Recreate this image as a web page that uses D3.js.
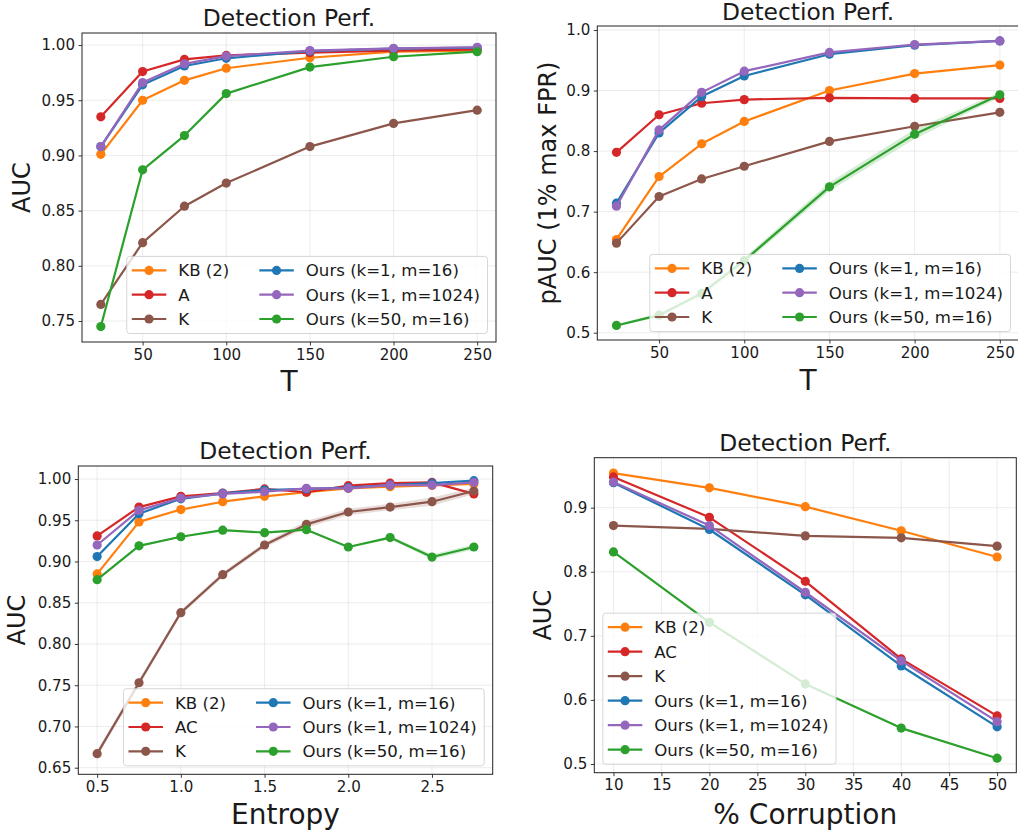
<!DOCTYPE html>
<html>
<head>
<meta charset="utf-8">
<script src="https://cdn.jsdelivr.net/npm/d3@7"></script>
<style>
  html, body { margin: 0; padding: 0; background: #fff; }
  svg { display: block; font-family: "DejaVu Sans", sans-serif; }
</style>
</head>
<body>
<svg id="chart" width="1018" height="831"></svg>
<script>
// ---------------- DATA ----------------
const seriesNamesA = ["KB (2)", "A", "K", "Ours (k=1, m=16)", "Ours (k=1, m=1024)", "Ours (k=50, m=16)"];
const seriesNamesAC = ["KB (2)", "AC", "K", "Ours (k=1, m=16)", "Ours (k=1, m=1024)", "Ours (k=50, m=16)"];
const seriesColors = ["#ff7f0e", "#d62728", "#8c564b", "#1f77b4", "#9467bd", "#2ca02c"];

// Panel 1: AUC vs T
const tValues = [25, 50, 75, 100, 150, 200, 250];
const auc_T_KB    = [0.901, 0.950, 0.968, 0.979, 0.9885, 0.994, 0.995];
const auc_T_A     = [0.935, 0.976, 0.987, 0.9906, 0.993, 0.995, 0.996];
const auc_T_K     = [0.765, 0.821, 0.854, 0.875, 0.908, 0.929, 0.941];
const auc_T_O16   = [0.908, 0.964, 0.981, 0.988, 0.9945, 0.9967, 0.9976];
const auc_T_O1024 = [0.908, 0.966, 0.983, 0.990, 0.995, 0.997, 0.998];
const auc_T_O50   = [0.745, 0.887, 0.918, 0.956, 0.980, 0.9894, 0.994];

// Panel 2: pAUC vs T
const pauc_T_KB    = [0.654, 0.758, 0.812, 0.849, 0.900, 0.928, 0.942];
const pauc_T_A     = [0.798, 0.860, 0.879, 0.885, 0.888, 0.887, 0.887];
const pauc_T_K     = [0.648, 0.725, 0.754, 0.775, 0.816, 0.841, 0.864];
const pauc_T_O16   = [0.714, 0.830, 0.890, 0.924, 0.960, 0.975, 0.982];
const pauc_T_O1024 = [0.709, 0.835, 0.897, 0.932, 0.963, 0.976, 0.982];
const pauc_T_O50   = [0.512, 0.529, 0.565, 0.619, 0.741, 0.828, 0.893];
const pauc_T_O50_spread = [0.002, 0.003, 0.004, 0.005, 0.007, 0.008, 0.004];

// Panel 3: AUC vs Entropy
const entropyValues = [0.5, 0.75, 1.0, 1.25, 1.5, 1.75, 2.0, 2.25, 2.5, 2.75];
const auc_E_KB    = [0.885, 0.948, 0.963, 0.9725, 0.979, 0.984, 0.9887, 0.9907, 0.9923, 0.994];
const auc_E_AC    = [0.931, 0.966, 0.979, 0.983, 0.988, 0.984, 0.992, 0.995, 0.996, 0.982];
const auc_E_K     = [0.667, 0.753, 0.838, 0.884, 0.920, 0.945, 0.960, 0.966, 0.9725, 0.9855];
const auc_E_O16   = [0.906, 0.958, 0.976, 0.9826, 0.9867, 0.988, 0.9895, 0.9927, 0.995, 0.998];
const auc_E_O1024 = [0.920, 0.962, 0.977, 0.982, 0.9846, 0.9887, 0.9887, 0.9927, 0.9927, 0.996];
const auc_E_O50   = [0.878, 0.919, 0.930, 0.938, 0.935, 0.9386, 0.9176, 0.929, 0.9054, 0.9176];
const auc_E_K_spread   = [0.004, 0.004, 0.003, 0.003, 0.003, 0.004, 0.004, 0.004, 0.005, 0.004];
const auc_E_O50_spread = [0.001, 0.001, 0.001, 0.001, 0.001, 0.001, 0.001, 0.002, 0.003, 0.003];

// Panel 4: AUC vs % Corruption
const corruptionValues = [10, 20, 30, 40, 50];
const auc_C_KB    = [0.954, 0.931, 0.9016, 0.864, 0.823];
const auc_C_AC    = [0.948, 0.885, 0.785, 0.664, 0.575];
const auc_C_K     = [0.872, 0.867, 0.856, 0.853, 0.840];
const auc_C_O16   = [0.939, 0.866, 0.764, 0.653, 0.558];
const auc_C_O1024 = [0.940, 0.872, 0.768, 0.661, 0.566];
const auc_C_O50   = [0.831, 0.721, 0.625, 0.556, 0.509];

// Axis ticks
const xTicksT = [50, 100, 150, 200, 250];
const yTicksP1 = [0.75, 0.80, 0.85, 0.90, 0.95, 1.00];
const yTicksP2 = [0.5, 0.6, 0.7, 0.8, 0.9, 1.0];
const xTicksE = [0.5, 1.0, 1.5, 2.0, 2.5];
const yTicksP3 = [0.65, 0.70, 0.75, 0.80, 0.85, 0.90, 0.95, 1.00];
const xTicksC = [10, 15, 20, 25, 30, 35, 40, 45, 50];
const yTicksP4 = [0.5, 0.6, 0.7, 0.8, 0.9];

// ---------------- PANEL CONFIG ----------------
const panels = [
  {
    box: {l: 82, t: 33, r: 496, b: 342},
    xDomain: [13.75, 261.25], yDomain: [0.731, 1.0109],
    x: tValues, series: [auc_T_KB, auc_T_A, auc_T_K, auc_T_O16, auc_T_O1024, auc_T_O50],
    spreads: {}, names: seriesNamesA,
    xTicks: xTicksT, yTicks: yTicksP1, xFmt: d3.format("d"), yFmt: d3.format(".2f"),
    xLabel: "T", yLabel: "AUC", yLabelX: 30, xLabelY: 390.5, titleY: 26,
    legendCols: 2, legendCorner: "lr"
  },
  {
    box: {l: 597.3, t: 26, r: 1019, b: 340},
    xDomain: [13.75, 261.25], yDomain: [0.488, 1.0066],
    x: tValues, series: [pauc_T_KB, pauc_T_A, pauc_T_K, pauc_T_O16, pauc_T_O1024, pauc_T_O50],
    spreads: {5: pauc_T_O50_spread}, names: seriesNamesA,
    xTicks: xTicksT, yTicks: yTicksP2, xFmt: d3.format("d"), yFmt: d3.format(".1f"),
    xLabel: "T", yLabel: "pAUC (1% max FPR)", yLabelX: 556, xLabelY: 390, titleY: 20,
    legendCols: 2, legendCorner: "lr"
  },
  {
    box: {l: 78.3, t: 466, r: 492.7, b: 774.3},
    xDomain: [0.3875, 2.8625], yDomain: [0.642, 1.0158],
    x: entropyValues, series: [auc_E_KB, auc_E_AC, auc_E_K, auc_E_O16, auc_E_O1024, auc_E_O50],
    spreads: {2: auc_E_K_spread, 5: auc_E_O50_spread}, names: seriesNamesAC,
    xTicks: xTicksE, yTicks: yTicksP3, xFmt: d3.format(".1f"), yFmt: d3.format(".2f"),
    xLabel: "Entropy", yLabel: "AUC", yLabelX: 25, xLabelY: 824, titleY: 459.3,
    legendCols: 2, legendCorner: "lr"
  },
  {
    box: {l: 594.3, t: 457.7, r: 1016.3, b: 772.7},
    xDomain: [8, 52], yDomain: [0.4864, 0.978],
    x: corruptionValues, series: [auc_C_KB, auc_C_AC, auc_C_K, auc_C_O16, auc_C_O1024, auc_C_O50],
    spreads: {}, names: seriesNamesAC,
    xTicks: xTicksC, yTicks: yTicksP4, xFmt: d3.format("d"), yFmt: d3.format(".1f"),
    xLabel: "% Corruption", yLabel: "AUC", yLabelX: 550.7, xLabelY: 823.5, titleY: 450.7,
    legendCols: 1, legendCorner: "ll"
  }
];

const svg = d3.select("#chart");
const TICK_FONT = 15.1, LEGEND_FONT = 16.6, TITLE_FONT = 23.4, YLABEL_FONT = 24, XLABEL_FONT = 28;
const textColor = "#1a1a1a";

panels.forEach((p, pi) => {
  const {l, t, r, b} = p.box;
  const xs = d3.scaleLinear().domain(p.xDomain).range([l, r]);
  const ys = d3.scaleLinear().domain(p.yDomain).range([b, t]);
  const g = svg.append("g");
  const clipId = "clip" + pi;
  svg.append("clipPath").attr("id", clipId).append("rect")
    .attr("x", l).attr("y", t).attr("width", r - l).attr("height", b - t);

  // grid
  const grid = g.append("g");
  p.xTicks.forEach(v => grid.append("line")
    .attr("x1", xs(v)).attr("x2", xs(v)).attr("y1", t).attr("y2", b)
    .attr("stroke", "#b0b0b0").attr("stroke-opacity", 0.3).attr("stroke-width", 0.8));
  p.yTicks.forEach(v => grid.append("line")
    .attr("y1", ys(v)).attr("y2", ys(v)).attr("x1", l).attr("x2", r)
    .attr("stroke", "#b0b0b0").attr("stroke-opacity", 0.3).attr("stroke-width", 0.8));

  // axes via d3
  const xAxis = d3.axisBottom(xs).tickValues(p.xTicks).tickFormat(p.xFmt).tickSize(3.5).tickPadding(3.5);
  const yAxis = d3.axisLeft(ys).tickValues(p.yTicks).tickFormat(p.yFmt).tickSize(3.5).tickPadding(3.5);
  const gx = g.append("g").attr("transform", `translate(0,${b})`).call(xAxis);
  const gy = g.append("g").attr("transform", `translate(${l},0)`).call(yAxis);
  [gx, gy].forEach(ax => {
    ax.select(".domain").remove();
    ax.selectAll(".tick line").attr("stroke", "#222").attr("stroke-width", 0.9);
    ax.selectAll(".tick text").attr("fill", textColor)
      .style("font-size", TICK_FONT + "px").style("font-family", "DejaVu Sans");
  });

  // data
  const data = g.append("g").attr("clip-path", `url(#${clipId})`);
  const line = d3.line().x((d, i) => xs(p.x[i])).y(d => ys(d));
  p.series.forEach((s, si) => {
    const col = seriesColors[si];
    const spread = p.spreads[si];
    if (spread) {
      const area = d3.area().x((d, i) => xs(p.x[i]))
        .y0((d, i) => ys(d - spread[i])).y1((d, i) => ys(d + spread[i]));
      data.append("path").datum(s).attr("d", area).attr("fill", col).attr("fill-opacity", 0.2);
    }
    data.append("path").datum(s).attr("d", line).attr("fill", "none")
      .attr("stroke", col).attr("stroke-width", 2.2).attr("stroke-linejoin", "round");
    data.selectAll(null).data(s).enter().append("circle")
      .attr("cx", (d, i) => xs(p.x[i])).attr("cy", d => ys(d)).attr("r", 4.6)
      .attr("fill", col);
  });

  // spines
  g.append("rect").attr("x", l).attr("y", t).attr("width", r - l).attr("height", b - t)
    .attr("fill", "none").attr("stroke", "#222").attr("stroke-width", 1);

  // title
  g.append("text").attr("x", (l + r) / 2).attr("y", p.titleY).attr("text-anchor", "middle")
    .attr("fill", textColor).style("font-size", TITLE_FONT + "px").text("Detection Perf.");
  // x label
  g.append("text").attr("x", (l + r) / 2).attr("y", p.xLabelY).attr("text-anchor", "middle")
    .attr("fill", textColor).style("font-size", XLABEL_FONT + "px").text(p.xLabel);
  // y label
  g.append("text").attr("transform", `translate(${p.yLabelX},${(t + b) / 2}) rotate(-90)`)
    .attr("text-anchor", "middle").attr("fill", textColor)
    .style("font-size", YLABEL_FONT + "px").text(p.yLabel);

  // legend
  const lg = g.append("g");
  const rowsPerCol = Math.ceil(p.names.length / p.legendCols);
  const padL = 5, handleLen = 34.5, textGap = 12, colGap = 30, padR = 7.5;
  const rowGap = p.legendCols === 1 ? 24.5 : 24.3, topPad = 14, botPad = 14.5;
  const tmp = svg.append("text").style("font-size", LEGEND_FONT + "px");
  const widths = p.names.map(n => { tmp.text(n); return tmp.node().getComputedTextLength(); });
  tmp.remove();
  const colWidths = [];
  for (let c = 0; c < p.legendCols; c++) {
    colWidths.push(d3.max(widths.slice(c * rowsPerCol, (c + 1) * rowsPerCol)));
  }
  let boxW = padL + padR;
  colWidths.forEach((w, c) => { boxW += handleLen + textGap + w + (c > 0 ? colGap : 0); });
  const boxH = topPad + (rowsPerCol - 1) * rowGap + botPad;
  const off = 8.5;
  const bx = p.legendCorner === "lr" ? r - off - boxW : l + off;
  const by = b - off - boxH;
  lg.append("rect").attr("x", bx).attr("y", by).attr("width", boxW).attr("height", boxH)
    .attr("rx", 3).attr("fill", "#fff").attr("fill-opacity", 0.8)
    .attr("stroke", "#cccccc").attr("stroke-opacity", 0.8).attr("stroke-width", 1);
  let cx0 = bx + padL;
  colWidths.forEach((w, c) => {
    for (let k = 0; k < rowsPerCol; k++) {
      const idx = c * rowsPerCol + k;
      if (idx >= p.names.length) break;
      const yy = by + topPad + k * rowGap;
      const col = seriesColors[idx];
      lg.append("line").attr("x1", cx0).attr("x2", cx0 + handleLen).attr("y1", yy).attr("y2", yy)
        .attr("stroke", col).attr("stroke-width", 2.2);
      lg.append("circle").attr("cx", cx0 + handleLen / 2).attr("cy", yy).attr("r", 4.6).attr("fill", col);
      lg.append("text").attr("x", cx0 + handleLen + textGap).attr("y", yy).attr("dy", "0.36em")
        .attr("fill", textColor).style("font-size", LEGEND_FONT + "px").text(p.names[idx]);
    }
    cx0 += handleLen + textGap + w + colGap;
  });
});
</script>
</body>
</html>
